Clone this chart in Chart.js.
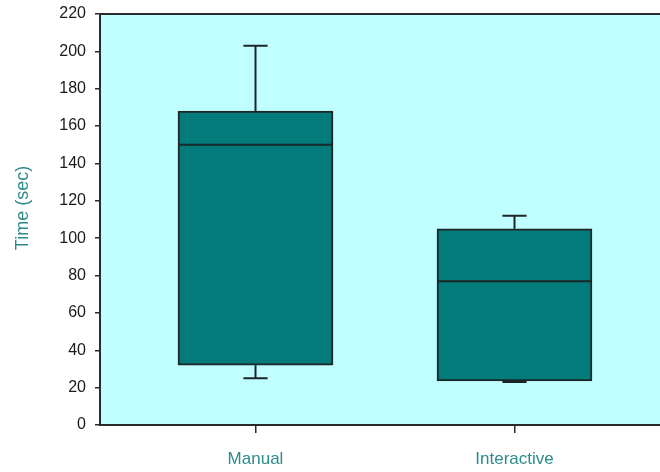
<!DOCTYPE html>
<html>
<head>
<meta charset="utf-8">
<script src="https://cdn.jsdelivr.net/npm/chart.js@4"></script>
<style>
    html, body { margin: 0; padding: 0; background: #ffffff; }
    canvas { display: block; }
</style>
</head>
<body>
<canvas id="grafico" width="660" height="472"></canvas>
<script>
// Box plot data per group (seconds)
const categorias = ["Manual", "Interactive"];
const bigoteInferior = [25, 23];
const cuartil1 = [32, 23.6];
const mediana = [150, 77];
const cuartil3 = [168, 105];
const bigoteSuperior = [203, 112];
const yTituloTexto = "Time (sec)";

const colorCaja = "#027b7a";
const colorLinea = "#1c2626";
const colorEje = "#2b2b2b";
const colorTexto = "#2e8b8b";

// fondo celeste solo dentro del area del grafico, más el borde superior
const fondoPlugin = {
    id: "fondo",
    beforeDraw(chart) {
        const { ctx, chartArea } = chart;
        ctx.save();
        ctx.fillStyle = "#c0ffff";
        ctx.fillRect(chartArea.left, chartArea.top, chartArea.right - chartArea.left, chartArea.bottom - chartArea.top);
        ctx.restore();
    },
    afterDraw(chart) {
        const { ctx, chartArea } = chart;
        ctx.save();
        ctx.strokeStyle = colorEje;
        ctx.lineWidth = 2;
        ctx.beginPath();
        ctx.moveTo(chartArea.left, chartArea.top);
        ctx.lineTo(chartArea.right, chartArea.top);
        ctx.stroke();

        // titulo del eje Y
        ctx.fillStyle = colorTexto;
        ctx.font = "18px 'Liberation Sans', Arial, sans-serif";
        ctx.textAlign = "center";
        ctx.textBaseline = "middle";
        ctx.translate(23, 208);
        ctx.rotate(-Math.PI / 2);
        ctx.fillText(yTituloTexto, 0, 0);
        ctx.restore();
    }
};

// mediana y bigotes encima de las cajas
const bigotesPlugin = {
    id: "bigotes",
    afterDatasetsDraw(chart) {
        const { ctx } = chart;
        const y = chart.scales.y;
        const meta = chart.getDatasetMeta(0);
        ctx.save();
        ctx.strokeStyle = colorLinea;
        ctx.lineWidth = 2;
        meta.data.forEach((barra, i) => {
            const cx = barra.x;
            const mitad = barra.width / 2;
            const tapa = barra.width * 0.078;

            ctx.beginPath();
            ctx.moveTo(cx - mitad, y.getPixelForValue(mediana[i]));
            ctx.lineTo(cx + mitad, y.getPixelForValue(mediana[i]));
            ctx.stroke();

            const yQ3 = y.getPixelForValue(cuartil3[i]);
            const yMax = y.getPixelForValue(bigoteSuperior[i]);
            ctx.beginPath();
            ctx.moveTo(cx, yQ3);
            ctx.lineTo(cx, yMax);
            ctx.moveTo(cx - tapa, yMax);
            ctx.lineTo(cx + tapa, yMax);
            ctx.stroke();

            const yQ1 = y.getPixelForValue(cuartil1[i]);
            const yMin = y.getPixelForValue(bigoteInferior[i]);
            ctx.beginPath();
            ctx.moveTo(cx, yQ1);
            ctx.lineTo(cx, yMin);
            ctx.moveTo(cx - tapa, yMin);
            ctx.lineTo(cx + tapa, yMin);
            ctx.stroke();
        });
        ctx.restore();
    }
};

const ctx = document.getElementById("grafico").getContext("2d");
new Chart(ctx, {
    type: "bar",
    data: {
        datasets: [{
            data: categorias.map((c, i) => ({ x: i + 1, y: [cuartil1[i], cuartil3[i]] })),
            backgroundColor: colorCaja,
            borderColor: colorLinea,
            borderWidth: 2,
            borderSkipped: false,
            barThickness: 155
        }]
    },
    options: {
        responsive: false,
        animation: false,
        layout: { padding: { top: 14, right: 0, left: 0, bottom: 0 } },
        plugins: {
            legend: { display: false },
            tooltip: { enabled: false }
        },
        scales: {
            x: {
                type: "linear",
                offset: false,
                min: 0.3996,
                max: 2.5618,
                afterBuildTicks(scale) {
                    scale.ticks = categorias.map((c, i) => ({ value: i + 1 }));
                },
                afterFit(scale) { scale.height = 47; },
                ticks: {
                    callback: (v) => categorias[v - 1],
                    color: colorTexto,
                    font: { family: "'Liberation Sans', Arial, sans-serif", size: 17 },
                    padding: 16,
                    maxRotation: 0
                },
                grid: { offset: false, drawOnChartArea: false, tickLength: 8, color: colorEje, lineWidth: 1.5 },
                border: { color: colorEje, width: 2 }
            },
            y: {
                min: 0,
                max: 220,
                afterFit(scale) {
                    scale.width = 100;
                    scale.paddingTop = 0;
                    scale.paddingBottom = 0;
                },
                ticks: {
                    stepSize: 20,
                    color: "#1a1a1a",
                    font: { family: "'Liberation Sans', Arial, sans-serif", size: 16 },
                    padding: 9
                },
                grid: { drawOnChartArea: false, tickLength: 5, color: colorEje, lineWidth: 1.5 },
                border: { color: colorEje, width: 2 }
            }
        }
    },
    plugins: [fondoPlugin, bigotesPlugin]
});
</script>
</body>
</html>
